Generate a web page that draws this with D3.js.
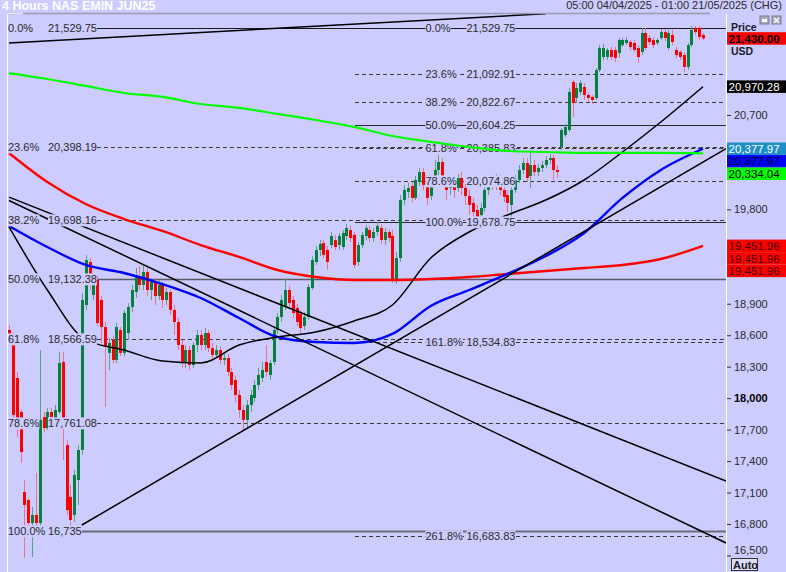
<!DOCTYPE html>
<html><head><meta charset="utf-8">
<script src="https://cdn.jsdelivr.net/npm/d3@7/dist/d3.min.js"></script>
<style>
body{margin:0;background:#ccccff;}
svg{display:block;font-family:"Liberation Sans",Arial,sans-serif;}
</style></head>
<body><svg id="c" width="786" height="572"></svg>
<script>
// ---------- DATA ----------
const title = "4 Hours NAS EMIN JUN25";
const dateRange = "05:00 04/04/2025 - 01:00 21/05/2025 (CHG)";

const opens = [18650,18602,18192,17868,17105,17029,16809,16886,16809,17820,17715,17868,17792,17868,18345,17553,17057,16886,17219,17506,18888,19298,18984,
19127,18936,18678,18431,18555,18364,18650,18431,18621,
18869,19012,19165,19079,19203,19031,19108,18974,19079,18936,19012,18841,18726,18507,18345,18459,
18316,18507,18602,18507,18621,18478,18412,18459,18364,
18383,18249,18173,18030,17887,17792,17935,18001,18125,18192,18345,18221,
18345,18650,18774,18869,19031,18936,18860,18802,18688,18774,19050,19298,19413,19479,19413,19460,19508,19460,19441,19546,19603,19556,19298,19460,19546,19603,19527,19584,19623,19508,19584,19546,
19127,19336,19889,19966,20023,19909,20061,20156,20033,19928,20080,20176,20252,20080,20004,20080,20004,20099,20004,19928,19861,19794,19746,19813,19985,20080,20023,20099,19985,19937,19842,19985,20080,20176,20242,20118,20223,20156,20195,20223,20271,20290,20176,
20395,20509,20557,21015,20862,20919,20967,20891,20872,20862,21129,21253,21253,21320,21320,21291,21367,21387,21396,21387,21339,21301,21482,21434,21415,21387,21434,21491,21339,21463,21320,21301,21272,21158,21367,21530,21530,21463];
const highs = [18697,18621,18249,17887,17219,17048,16962,17287,18459,17868,17906,17906,17935,18440,18440,17601,17172,17315,17553,19003,19365,19336,19174,
19165,18974,18726,18574,18593,18717,18678,18841,18907,
19079,19241,19260,19270,19241,19146,19146,19127,19108,19050,19031,18888,18764,18555,18507,18497,
18535,18650,18650,18669,18650,18526,18507,18497,18440,
18421,18287,18211,18078,17935,17982,18078,18173,18287,18345,18507,18364,
18688,18812,18984,19146,19069,18974,18898,18841,18821,19088,19355,19451,19508,19508,19451,19584,19556,19575,19603,19661,19642,19584,19489,19584,19651,19642,19623,19680,19661,19623,19613,19603,
19394,19937,20033,20052,20061,20118,20195,20195,20080,20118,20271,20319,20290,20118,20118,20118,20137,20156,20042,19985,19909,19842,19861,20033,20118,20128,20137,20128,20033,19985,20023,20128,20223,20290,20290,20347,20271,20233,20261,20309,20328,20319,20223,
20576,20614,20957,21034,21005,21034,21005,20919,20891,21148,21367,21377,21339,21348,21348,21434,21434,21444,21415,21415,21367,21530,21530,21463,21444,21434,21520,21520,21511,21511,21348,21320,21301,21387,21549,21549,21549,21482];
const lows = [18574,17715,17630,17382,16476,16771,16485,16781,16781,17677,17696,17792,17773,17849,17410,16886,16771,16819,16981,17458,18841,19031,18936,
18688,18526,17916,18268,18335,18335,18402,18402,18555,
18821,18955,19031,19031,18974,18936,18888,18936,18860,18888,18793,18602,18459,18287,18287,18268,
18287,18440,18459,18459,18440,18364,18383,18326,18316,
18211,18078,17963,17811,17696,17715,17868,17963,18078,18154,18202,18173,
18316,18612,18726,18841,18860,18764,18688,18621,18650,18745,19031,19270,19355,19336,19222,19432,19413,19413,19413,19508,19489,19241,19260,19432,19508,19489,19489,19546,19470,19460,19489,19098,
19088,19298,19842,19909,19870,19889,20023,19985,19842,19889,20033,20128,20023,19889,19937,19909,19966,19937,19842,19746,19651,19651,19680,19775,19937,19985,19985,19937,19870,19775,19708,19956,20052,20137,20061,20004,20118,20118,20156,20195,20233,20080,20099,
20366,20490,20538,20681,20814,20891,20843,20824,20805,20843,21110,21224,21224,21224,21205,21244,21348,21367,21320,21301,21196,21272,21320,21367,21339,21367,21415,21406,21320,21367,21244,21224,21110,21129,21348,21463,21415,21415];
const closes = [18602,17839,17811,17486,16981,16809,16886,16809,17792,17715,17868,17820,17887,18335,17725,16933,16838,17267,17506,18936,19317,19108,19127,
18717,18678,18488,18526,18364,18678,18431,18812,18869,
19031,19174,19079,19203,19031,19108,18974,19079,18936,19012,18841,18726,18507,18345,18459,18316,
18507,18602,18507,18621,18478,18412,18459,18364,18383,
18249,18125,18030,17887,17792,17935,18030,18125,18221,18268,18249,18335,
18650,18774,18936,19031,18907,18812,18726,18669,18774,19060,19317,19413,19470,19365,19298,19546,19441,19546,19575,19623,19527,19270,19460,19556,19623,19527,19584,19642,19508,19584,19527,19127,
19336,19889,19985,20004,19909,20080,20156,20033,19909,20080,20176,20252,20080,19985,20080,19985,20099,20004,19928,19842,19775,19718,19813,19985,20080,20023,20099,19985,19918,19861,19985,20080,20176,20242,20099,20223,20156,20195,20223,20271,20290,20176,20156,
20557,20586,20919,20814,20957,21005,20891,20862,20843,21129,21339,21339,21320,21253,21244,21415,21415,21415,21348,21320,21253,21482,21339,21396,21367,21415,21491,21434,21482,21396,21272,21253,21158,21367,21511,21491,21444,21430];

// moving averages sampled at candle indices
const maIndex = [0,10,20,30,40,50,60,70,80,90,100,110,120,130,140,150,160,170,181];
const maGreen = [21100,21043,20977,20910,20872,20805,20767,20710,20652,20586,20500,20443,20395,20357,20347,20338,20338,20338,20334];
const maRed   = [20338,20061,19851,19708,19594,19460,19346,19222,19155,19127,19127,19136,19155,19184,19212,19241,19270,19327,19452];
const maBlue  = [19642,19441,19270,19193,19088,18955,18764,18583,18535,18526,18612,18879,19031,19184,19355,19575,19909,20176,20378];
const maBlack = [19632,19031,18555,18459,18354,18335,18507,18583,18631,18736,18888,19336,19584,19746,19889,20080,20347,20633,20970];

// trend lines: [index, price] endpoints
const trendTop   = [[0,21387],[140,21666]];
const trendDown1 = [[0,19917],[187,17210]];
const trendDown2 = [[0,19885],[187,16619]];
const trendUp    = [[19,16790],[187,20380]];

// fibonacci sets
const fibLeftPct  = ["0.0%","23.6%","38.2%","50.0%","61.8%","78.6%","100.0%"];
const fibLeftVal  = [21529.75,20398.19,19698.16,19132.38,18566.59,17761.08,16735];
const fibLeftText = ["21,529.75","20,398.19","19,698.16","19,132.38","18,566.59","17,761.08","16,735"];
const fibRightPct  = ["0.0%","23.6%","38.2%","50.0%","61.8%","78.6%","100.0%","161.8%","261.8%"];
const fibRightVal  = [21529.75,21092.91,20822.67,20604.25,20385.83,20074.86,19678.75,18534.83,16683.83];
const fibRightText = ["21,529.75","21,092.91","20,822.67","20,604.25","20,385.83","20,074.86","19,678.75","18,534.83","16,683.83"];

const yTicks = [16500,16800,17100,17400,17700,18000,18300,18600,18900,19200,19500,19800,20100,20400,20700,21000,21300,21600];
const tagValues = [21430.00,20970.28,20377.97,20377.97,20334.04,19451.96,19451.96,19451.96];

// ---------- DRAW ----------
const BG = "#ccccff";
const svg = d3.select("#c");
const N = opens.length;
const x = d3.scaleLinear().domain([0, N-1]).range([9, 703]);
const y = d3.scaleLinear().domain([16342, 21663]).range([572, 14]);

svg.append("rect").attr("width",786).attr("height",572).attr("fill",BG);

const defs = svg.append("defs");
defs.append("clipPath").attr("id","plot").append("rect").attr("x",8).attr("y",14).attr("width",718).attr("height",558);

const gFib = svg.append("g").attr("clip-path","url(#plot)");
const gCandle = svg.append("g").attr("clip-path","url(#plot)");
const gLine = svg.append("g").attr("clip-path","url(#plot)");
const gLabel = svg.append("g").attr("clip-path","url(#plot)");
const gTop = svg.append("g").attr("clip-path","url(#plot)");

// frame
svg.append("line").attr("x1",7.5).attr("x2",7.5).attr("y1",14).attr("y2",572).attr("stroke","#ffffff").attr("stroke-width",1);
svg.append("line").attr("x1",726.5).attr("x2",726.5).attr("y1",14).attr("y2",572).attr("stroke","#ffffff").attr("stroke-width",1);
svg.append("line").attr("x1",8).attr("x2",710).attr("y1",13.5).attr("y2",13.5).attr("stroke","#9a9ab4").attr("stroke-width",1.5);
svg.append("line").attr("x1",8).attr("x2",23).attr("y1",13.5).attr("y2",13.5).attr("stroke","#e8e8f8").attr("stroke-width",1.5);

// labels helper
function label(g, xp, yp, str){
  const t = g.append("text").attr("x",xp).attr("y",yp).attr("dy","0.35em")
    .attr("font-size","11px").attr("fill","#2a2a2a").text(str);
  const b = t.node().getBBox();
  g.insert("rect", () => t.node()).attr("x",b.x).attr("y",b.y).attr("width",b.width).attr("height",b.height).attr("fill",BG);
  return b;
}
function fibStyle(sel, pct, side){
  if(pct==="0.0%"){ sel.attr("stroke","#1a1a1a").attr("stroke-width",1.2); }
  else if(pct==="50.0%"){ sel.attr("stroke", side==="L" ? "#5a5a66" : "#2a2a2a").attr("stroke-width", side==="L"?1.6:1.1); }
  else if(pct==="100.0%"){ sel.attr("stroke", side==="L" ? "#6a6a76" : "#2a2a2a").attr("stroke-width", side==="L"?2:1.1); }
  else { sel.attr("stroke","#3a3a3a").attr("stroke-width",1).attr("stroke-dasharray","4,3"); }
}

// left fib
fibLeftVal.forEach((v,i)=>{
  const yy = Math.round(y(v))+0.5;
  label(gLabel, 8, yy, fibLeftPct[i]);
  const b = label(gLabel, 48, yy, fibLeftText[i]);
  fibStyle(gFib.append("line").attr("x1",b.x+b.width).attr("x2",726).attr("y1",yy).attr("y2",yy), fibLeftPct[i], "L");
});
// right fib
fibRightVal.forEach((v,i)=>{
  const yy = Math.round(y(v))+0.5;
  label(gLabel, 425.5, yy, fibRightPct[i]);
  const b = label(gLabel, 466.5, yy, fibRightText[i]);
  if(i>0) fibStyle(gFib.append("line").attr("x1",355).attr("x2",726).attr("y1",yy).attr("y2",yy), fibRightPct[i], "R");
});

// candles
const idx = d3.range(N);
gCandle.selectAll("line.w").data(idx).join("line")
  .attr("x1",i=>Math.round(x(i))+0.5).attr("x2",i=>Math.round(x(i))+0.5)
  .attr("y1",i=>y(Math.max(highs[i],opens[i],closes[i]))).attr("y2",i=>y(Math.min(lows[i],opens[i],closes[i])))
  .attr("stroke",i=>closes[i]>=opens[i]?"#5f9f86":"#f0708a").attr("stroke-width",1);
gCandle.selectAll("rect.b").data(idx).join("rect")
  .attr("x",i=>Math.round(x(i))-1).attr("width",3)
  .attr("y",i=>y(Math.max(opens[i],closes[i])))
  .attr("height",i=>Math.max(1,Math.abs(y(opens[i])-y(closes[i]))))
  .attr("fill",i=>closes[i]>=opens[i]?"#07803f":"#ff0000");

// moving averages
const maLine = vals => d3.line().x((d,i)=>x(maIndex[i])).y(d=>y(d)).curve(d3.curveMonotoneX)(vals);
gTop.append("path").attr("d",maLine(maGreen)).attr("fill","none").attr("stroke","#00ff00").attr("stroke-width",2.2);
gLine.append("path").attr("d",maLine(maRed)).attr("fill","none").attr("stroke","#ff0000").attr("stroke-width",2.4);
gLine.append("path").attr("d",maLine(maBlue)).attr("fill","none").attr("stroke","#0000ff").attr("stroke-width",2.4);
gLine.append("path").attr("d",maLine(maBlack)).attr("fill","none").attr("stroke","#000000").attr("stroke-width",1.5);

// trend lines
const tl = d3.line().x(d=>x(d[0])).y(d=>y(d[1]));
[trendTop,trendDown1,trendDown2,trendUp].forEach(t=>{
  gLine.append("path").attr("d",tl(t)).attr("fill","none").attr("stroke","#000").attr("stroke-width",1.5);
});

// value tags with stacking (computed first so axis labels they cover can be skipped)
const tagFill = ["#ff0000","#000000","#1f8fc9","#0000ff","#00ff00","#ff0000","#ff0000","#ff0000"];
const tagText = ["#000000","#ffffff","#ffffff","#000022","#000000","#3a0000","#3a0000","#3a0000"];
const tagBold = [true,false,false,false,false,false,false,false];
const H = 12.5;
let prev = -1e9;
const tagPos = tagValues.map(v=>{
  let c = y(v);
  if(c < prev + H) c = prev + H;
  prev = c;
  return c;
});
const blocked = tagPos.map(c=>[c-H/2, c+H/2]).concat([[0,56]]);
const visibleTicks = yTicks.filter(t=>{
  const c = y(t);
  return !blocked.some(([a,b])=> c+6 > a && c-6 < b);
});

// right axis
const ax = svg.append("g").attr("transform","translate(727,0)")
  .call(d3.axisRight(y).tickValues(visibleTicks).tickSize(4).tickFormat(d3.format(",")));
ax.select(".domain").remove();
ax.selectAll(".tick line").attr("stroke","#333");
ax.selectAll(".tick text").attr("font-size","11px").attr("font-family","Liberation Sans, Arial, sans-serif")
  .attr("font-weight",d=>d===18000?"bold":"normal").attr("fill",d=>d===18000?"#000":"#2a2a2a")
  .attr("dy",d=>d===16500?"-0.2em":"0.32em");

// price/usd text (just above and below the last-price tag)
svg.append("text").attr("x",731).attr("y",31).attr("font-size","10.5px").attr("font-weight","bold").attr("fill","#1a1a2a").text("Price");
svg.append("text").attr("x",731).attr("y",54.5).attr("font-size","10.5px").attr("font-weight","bold").attr("fill","#1a1a2a").text("USD");

const fmt = d3.format(",.2f");
tagValues.forEach((v,i)=>{
  const c = tagPos[i];
  svg.append("rect").attr("x",727).attr("y",c-H/2).attr("width",59).attr("height",H).attr("fill",tagFill[i]);
  svg.append("text").attr("x",728.5).attr("y",c).attr("dy","0.36em").attr("font-size","11.5px")
    .attr("font-weight",tagBold[i]?"bold":"normal").attr("fill",tagText[i]).text(fmt(v));
});

// window icons
[760,772].forEach((xx,k)=>{
  svg.append("rect").attr("x",xx).attr("y",16).attr("width",9).attr("height",8).attr("fill","#a8a8c0").attr("stroke","#7a7a90");
  if(k===0) svg.append("rect").attr("x",xx+2).attr("y",19).attr("width",5).attr("height",3).attr("fill","#fff");
  else svg.append("path").attr("d",`M${xx+2},18 L${xx+7},23 M${xx+7},18 L${xx+2},23`).attr("stroke","#fff").attr("stroke-width",1.3);
});

// auto box
svg.append("rect").attr("x",731.5).attr("y",558.5).attr("width",26).attr("height",12).attr("fill","#dcdcf4").attr("stroke","#333");
svg.append("text").attr("x",733).attr("y",568.5).attr("font-size","11px").attr("font-weight","bold").attr("fill","#1a1a2a").text("Auto");

// header
svg.append("text").attr("x",2).attr("y",9.5).attr("font-size","12.5px").attr("font-weight","bold").attr("fill","#ffffff").text(title);
svg.append("text").attr("x",782).attr("y",8.5).attr("text-anchor","end").attr("font-size","11px").attr("fill","#2a2a2a").text(dateRange);
</script>
</body></html>
